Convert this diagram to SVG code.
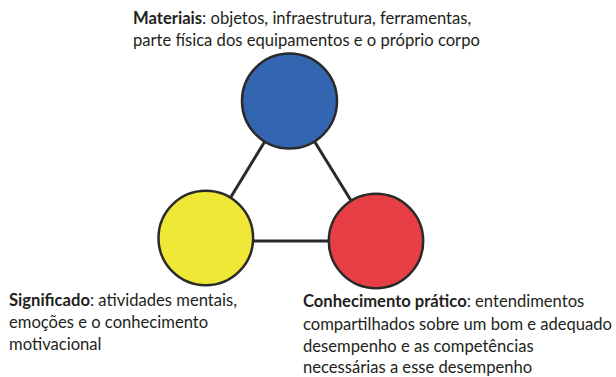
<svg xmlns="http://www.w3.org/2000/svg" width="616" height="377" viewBox="0 0 616 377">
<style>
text{font-family:Lato,"Open Sans","Liberation Sans",sans-serif;font-size:16.6px;fill:#231f20}
.b{font-weight:bold}
.node{stroke:#2a2a2a;stroke-width:2.5}
.edge{stroke:#2a2a2a;stroke-width:3;fill:none}
</style>
<rect width="616" height="377" fill="#fff"/>
<g id="connectors">
<line class="edge" x1="289.5" y1="101" x2="205.8" y2="238"/>
<line class="edge" x1="289.5" y1="101" x2="376" y2="241"/>
<line class="edge" x1="205.8" y1="241" x2="376" y2="241"/>
</g>
<g id="materiais">
<circle class="node" cx="289.5" cy="101" r="47.5" fill="#3465b0"/>
<text x="133" y="24"><tspan class="b">Materiais</tspan>: objetos, infraestrutura, ferramentas,</text>
<text x="133" y="46">parte física dos equipamentos e o próprio corpo</text>
</g>
<g id="significado">
<circle class="node" cx="205.8" cy="238" r="47.3" fill="#efe836"/>
<text x="9" y="306"><tspan class="b">Significado</tspan>: atividades mentais,</text>
<text x="9" y="328">emoções e o conhecimento</text>
<text x="9" y="350">motivacional</text>
</g>
<g id="conhecimento">
<circle class="node" cx="376" cy="241" r="47.2" fill="#e83e45"/>
<text x="303" y="307"><tspan class="b">Conhecimento prático</tspan>: entendimentos</text>
<text x="303" y="330" textLength="309" lengthAdjust="spacingAndGlyphs">compartilhados sobre um bom e adequado</text>
<text x="303" y="352">desempenho e as competências</text>
<text x="303" y="373">necessárias a esse desempenho</text>
</g>
</svg>
